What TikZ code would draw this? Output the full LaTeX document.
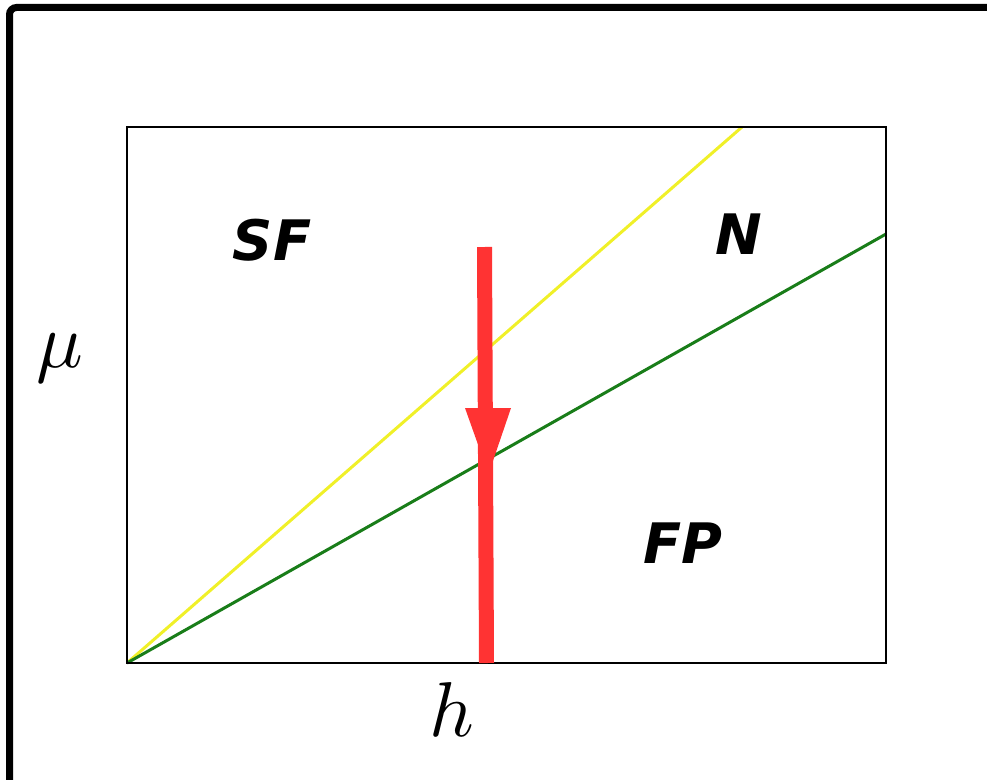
\documentclass[tikz,border=0pt]{standalone}
\usepackage{fontspec}
\newfontfamily\labelfont{DejaVu Sans}
\definecolor{phaseyellow}{RGB}{240,240,40}
\definecolor{phasegreen}{RGB}{25,125,25}
\definecolor{arrowred}{RGB}{255,51,51}
\tikzset{
  frameline/.style={line width=7bp, rounded corners=7bp},
  boxline/.style={line width=1.8bp},
  regionlabel/.style={font=\labelfont\bfseries\itshape\fontsize{56}{56}\selectfont, inner sep=0pt},
  axislabel/.style={inner sep=0pt},
  boundary/.style={line width=3bp},
}
\begin{document}
\begin{tikzpicture}[x=1bp,y=-1bp]
\useasboundingbox (0,0) rectangle (987,780);
\begin{scope}
\clip (0,0) rectangle (987,780);
\draw[frameline] (9.5,820) -- (9.5,7.5) -- (1030,7.5);
\end{scope}
% inner box corners
\coordinate (o) at (127,663);
\coordinate (tr) at (886,127);
\coordinate (yend) at (742,127);
\coordinate (gend) at (886,234);
\coordinate (atop) at (484.5,247);
\coordinate (abot) at (486.5,663);
% boundaries
\draw[boundary, phaseyellow] (o) -- (yend);
\draw[boundary, phasegreen] (o) -- (gend);
\draw[boxline] (o) rectangle (tr);
% red arrow
\draw[arrowred, line width=15bp] (atop) -- (abot);
\fill[arrowred] (465,408) -- (511,408) -- (488.5,474) -- cycle;
% labels
\node[regionlabel] (sf) at (272,240) {SF};
\node[regionlabel] (n) at (739,234) {N};
\node[regionlabel] (fp) at (683,543) {FP};
\node[axislabel] (mu) at (60,358) {\scalebox{7.8}{$\mu$}};
\node[axislabel] (h) at (452,710) {\scalebox{7.8}{$h$}};
\end{tikzpicture}
\end{document}
